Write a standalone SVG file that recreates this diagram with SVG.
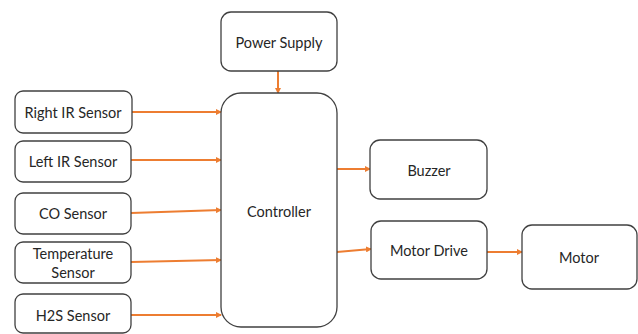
<svg xmlns="http://www.w3.org/2000/svg" width="638" height="334" viewBox="0 0 638 334">
  <defs>
    <marker id="arrow" markerWidth="6" markerHeight="6" refX="5" refY="3" orient="auto" markerUnits="userSpaceOnUse">
      <path d="M0,0 L6,3 L0,6 Z" fill="#ED7D31"/>
    </marker>
    <style>
      .box { fill: #ffffff; stroke: #404040; stroke-width: 1.3; }
      .lbl { font-family: Lato, "Open Sans", sans-serif; font-size: 14.5px; fill: #262626; text-anchor: middle; dominant-baseline: central; }
      .wire { stroke: #ED7D31; stroke-width: 2; fill: none; marker-end: url(#arrow); }
    </style>
  </defs>
  <rect width="638" height="334" fill="#ffffff"/>

  <g id="connectors">
    <line class="wire" x1="278" y1="71" x2="278" y2="93"/>
    <line class="wire" x1="132" y1="112" x2="221" y2="112"/>
    <line class="wire" x1="131" y1="160" x2="221" y2="160"/>
    <line class="wire" x1="131" y1="213" x2="221" y2="210"/>
    <line class="wire" x1="131" y1="262" x2="221" y2="260"/>
    <line class="wire" x1="131" y1="315" x2="221" y2="315"/>
    <line class="wire" x1="337" y1="169" x2="370" y2="169"/>
    <line class="wire" x1="337" y1="252" x2="371" y2="249"/>
    <line class="wire" x1="487" y1="252" x2="522" y2="252"/>
  </g>

  <g id="power-supply">
    <rect class="box" x="221" y="12" width="116" height="59" rx="10"/>
    <text class="lbl" x="279" y="42">Power Supply</text>
  </g>

  <g id="controller">
    <rect class="box" x="221" y="93" width="116" height="234" rx="20"/>
    <text class="lbl" x="279" y="211">Controller</text>
  </g>

  <g id="right-ir-sensor">
    <rect class="box" x="15" y="91" width="117" height="42" rx="8"/>
    <text class="lbl" x="73" y="112">Right IR Sensor</text>
  </g>

  <g id="left-ir-sensor">
    <rect class="box" x="15" y="141" width="116" height="41" rx="8"/>
    <text class="lbl" x="73" y="161">Left IR Sensor</text>
  </g>

  <g id="co-sensor">
    <rect class="box" x="15" y="193" width="116" height="41" rx="8"/>
    <text class="lbl" x="73" y="213">CO Sensor</text>
  </g>

  <g id="temperature-sensor">
    <rect class="box" x="15" y="242" width="116" height="41" rx="8"/>
    <text class="lbl" x="73" y="253">Temperature</text>
    <text class="lbl" x="73" y="272">Sensor</text>
  </g>

  <g id="h2s-sensor">
    <rect class="box" x="15" y="294" width="116" height="39" rx="8"/>
    <text class="lbl" x="73" y="315">H2S Sensor</text>
  </g>

  <g id="buzzer">
    <rect class="box" x="370" y="140" width="117" height="59" rx="10"/>
    <text class="lbl" x="429" y="170">Buzzer</text>
  </g>

  <g id="motor-drive">
    <rect class="box" x="371" y="221" width="116" height="58" rx="10"/>
    <text class="lbl" x="429" y="250">Motor Drive</text>
  </g>

  <g id="motor">
    <rect class="box" x="522" y="225" width="115" height="64" rx="10"/>
    <text class="lbl" x="579" y="257">Motor</text>
  </g>
</svg>
